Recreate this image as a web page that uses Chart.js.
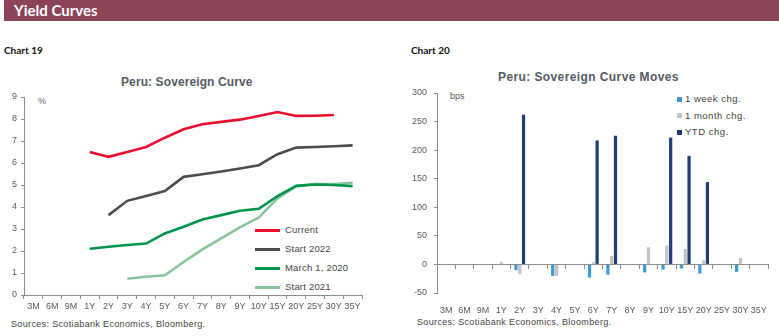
<!DOCTYPE html>
<html>
<head>
<meta charset="utf-8">
<script src="https://cdn.jsdelivr.net/npm/chart.js@4.4.1/dist/chart.umd.min.js"></script>
<style>
  body { margin: 0; background: #fff; width: 779px; height: 336px; position: relative; overflow: hidden; font-family: "Liberation Sans", Arial, sans-serif; }
  .abs { position: absolute; white-space: nowrap; }
  #header { left: 4px; top: 0; width: 775px; height: 21px; background: #8c4459; }
  #header span { position: absolute; left: 10px; top: 1px; color: #fff; font: bold 15px Lato, sans-serif; }
  .chartNo { font: bold 10px Lato, sans-serif; color: #111; }
  .title { font: bold 12px "Liberation Sans", Arial, sans-serif; color: #555b63; letter-spacing: 0.4px; }
  .src { font: 9px "Liberation Sans", Arial, sans-serif; color: #444; letter-spacing: 0.35px; }
  .unit { font: 9px "Liberation Sans", Arial, sans-serif; color: #595959; }
  .leg { font: 9.5px "Liberation Sans", Arial, sans-serif; color: #444; letter-spacing: 0.2px; }
  .leg i { display: inline-block; vertical-align: middle; margin-right: 5px; }
  canvas { position: absolute; }
</style>
</head>
<body>
<div id="header" class="abs"><span>Yield Curves</span></div>
<div class="abs chartNo" style="left:4px; top:44px;">Chart 19</div>
<div class="abs chartNo" style="left:411px; top:44px;">Chart 20</div>
<div class="abs title" style="left:121px; top:75px; letter-spacing:0.1px;">Peru: Sovereign Curve</div>
<div class="abs title" style="left:498px; top:70px;">Peru: Sovereign Curve Moves</div>
<div class="abs unit" style="left:38px; top:96px;">%</div>
<div class="abs unit" style="left:450px; top:91px;">bps</div>
<div class="abs src" style="left:11px; top:319px;">Sources: Scotiabank Economics, Bloomberg.</div>
<div class="abs src" style="left:417px; top:317px;">Sources: Scotiabank Economics, Bloomberg.</div>
<div id="legLeft"></div>
<div id="legRight"></div>

<canvas id="curveChart" width="380" height="240" style="left:0; top:80px; width:380px; height:240px;"></canvas>
<canvas id="movesChart" width="374" height="240" style="left:405px; top:80px; width:374px; height:240px;"></canvas>

<script>
const tenors = ["3M", "6M", "9M", "1Y", "2Y", "3Y", "4Y", "5Y", "6Y", "7Y", "8Y", "9Y", "10Y", "15Y", "20Y", "25Y", "30Y", "35Y"];

// Chart 19: yields, %
const current   = [null, null, null, 6.50, 6.28, 6.50, 6.73, 7.15, 7.53, 7.76, 7.87, 7.97, 8.14, 8.32, 8.14, 8.15, 8.18, null];
const start2022 = [null, null, null, null, 3.63, 4.28, 4.50, 4.73, 5.37, 5.49, 5.61, 5.75, 5.90, 6.40, 6.70, 6.73, 6.76, 6.80];
const march2020 = [null, null, null, 2.10, 2.19, 2.27, 2.34, 2.80, 3.10, 3.43, 3.63, 3.83, 3.92, 4.49, 4.96, 5.02, 5.00, 4.95];
const start2021 = [null, null, null, null, null, 0.74, 0.83, 0.90, 1.50, 2.07, 2.57, 3.07, 3.52, 4.39, 4.95, 5.04, 5.04, 5.10];

// Chart 20: changes, bps
const weekChg  = [0, 0, 0, 0, -10, 0, -20, 0, -23, -18, 0, -14, -9, -7, -16, 0, -13, 0];
const monthChg = [0, 0, 0, 4, -17, 0, -20, 0, 4, 15, 0, 30, 33, 27, 7, 0, 11, 0];
const ytdChg   = [0, 0, 0, 0, 262, 0, 0, 0, 217, 225, 0, 0, 222, 190, 144, 0, 0, 0];

const curveSeries = [
    { label: "Current", data: current, color: "#e8102c" },
    { label: "Start 2022", data: start2022, color: "#4d4d4d" },
    { label: "March 1, 2020", data: march2020, color: "#00934b" },
    { label: "Start 2021", data: start2021, color: "#86c49b" }
];
const moveSeries = [
    { label: "1 week chg.", data: weekChg, color: "#3a9ad6" },
    { label: "1 month chg.", data: monthChg, color: "#c3c3c3" },
    { label: "YTD chg.", data: ytdChg, color: "#1f3d7a" }
];

Chart.defaults.font.family = "'Liberation Sans', Arial, sans-serif";
Chart.defaults.font.size = 9;
Chart.defaults.color = "#595959";

const axisGrey = "#8c8c8c";

// html legends
const legLeft = document.getElementById("legLeft");
curveSeries.forEach((s, i) => {
    const d = document.createElement("div");
    d.className = "abs leg";
    d.style.left = "255px";
    d.style.top = (224 + i * 19) + "px";
    d.innerHTML = '<i style="width:25px;height:3px;background:' + s.color + '"></i>' + s.label;
    legLeft.appendChild(d);
});
const legRight = document.getElementById("legRight");
moveSeries.forEach((s, i) => {
    const d = document.createElement("div");
    d.className = "abs leg";
    d.style.left = "677px";
    d.style.top = (93 + i * 16.5) + "px";
    d.style.letterSpacing = "0.5px";
    d.innerHTML = '<i style="width:5px;height:5px;margin-right:3px;background:' + s.color + '"></i>' + s.label;
    legRight.appendChild(d);
});

new Chart(document.getElementById("curveChart"), {
    type: "line",
    data: {
        labels: tenors,
        datasets: curveSeries.map(s => ({
            label: s.label,
            data: s.data,
            borderColor: s.color,
            backgroundColor: s.color,
            borderWidth: 2.6,
            pointRadius: 0,
            tension: 0,
            spanGaps: false
        }))
    },
    options: {
        responsive: false,
        animation: false,
        layout: { padding: { top: 17, right: 18, left: 0, bottom: 0 } },
        plugins: { legend: { display: false }, tooltip: { enabled: false } },
        scales: {
            x: {
                offset: true,
                grid: { display: true, offset: true, drawOnChartArea: false, drawTicks: true, tickLength: 4, color: axisGrey },
                border: { display: true, color: axisGrey },
                ticks: { padding: 2, maxRotation: 0, autoSkip: false },
                afterFit: s => { s.height = 25; }
            },
            y: {
                min: 0,
                max: 9,
                grid: { display: true, drawOnChartArea: false, drawTicks: true, tickLength: 3, color: axisGrey },
                border: { display: true, color: axisGrey },
                ticks: { stepSize: 1, padding: 4 },
                afterFit: s => { s.width = 24; }
            }
        }
    }
});

new Chart(document.getElementById("movesChart"), {
    type: "bar",
    data: {
        labels: tenors,
        datasets: moveSeries.map(s => ({
            label: s.label,
            data: s.data,
            backgroundColor: s.color,
            categoryPercentage: 0.62,
            barPercentage: 0.85
        }))
    },
    options: {
        responsive: false,
        animation: false,
        layout: { padding: { top: 13, right: 11, left: 0, bottom: 0 } },
        plugins: { legend: { display: false }, tooltip: { enabled: false } },
        scales: {
            x: {
                grid: { display: false },
                border: { display: false },
                ticks: { padding: 4, maxRotation: 0, autoSkip: false },
                afterFit: s => { s.height = 27; }
            },
            x2: {
                type: "category",
                labels: tenors,
                position: { y: 0 },
                grid: { display: true, offset: true, drawOnChartArea: false, drawTicks: true, tickLength: 4, color: axisGrey },
                border: { display: true, color: axisGrey },
                ticks: { display: false }
            },
            y: {
                min: -50,
                max: 300,
                grid: { display: true, drawOnChartArea: false, drawTicks: true, tickLength: 3, color: axisGrey },
                border: { display: true, color: axisGrey },
                ticks: { stepSize: 50, padding: 7 },
                afterFit: s => { s.width = 32; }
            }
        }
    }
});
</script>
</body>
</html>
